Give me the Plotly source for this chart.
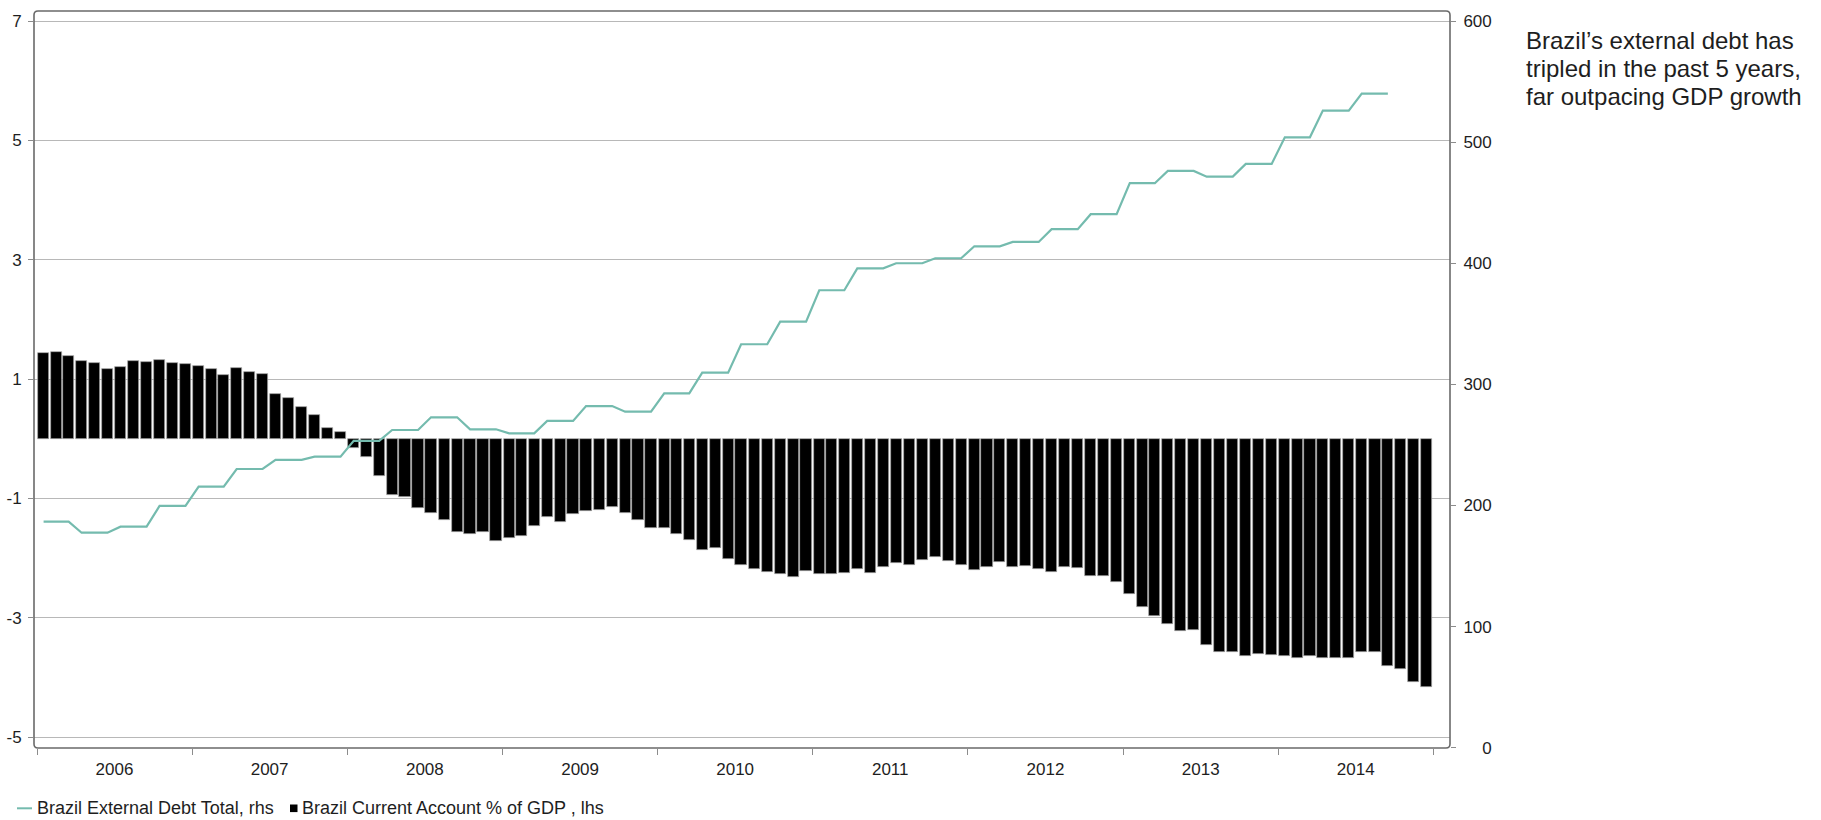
import pandas as pd
import plotly.graph_objects as go

# Monthly observations, Jan 2006 - Dec 2014
months = pd.date_range("2006-01-01", "2014-12-01", freq="MS")

# Brazil current account balance, % of GDP (left axis)
current_account = [
    1.43, 1.46, 1.39, 1.31, 1.26, 1.16, 1.20, 1.31, 1.29, 1.32, 1.27, 1.25,          # 2006
    1.22, 1.17, 1.06, 1.18, 1.12, 1.08, 0.75, 0.68, 0.53, 0.40, 0.18, 0.11,          # 2007
    -0.15, -0.31, -0.62, -0.94, -0.97, -1.17, -1.24, -1.37, -1.56, -1.60, -1.56, -1.71,  # 2008
    -1.67, -1.63, -1.47, -1.31, -1.39, -1.26, -1.22, -1.19, -1.15, -1.25, -1.37, -1.49,  # 2009
    -1.50, -1.59, -1.69, -1.87, -1.84, -2.01, -2.11, -2.18, -2.24, -2.26, -2.32, -2.21,  # 2010
    -2.26, -2.26, -2.25, -2.18, -2.25, -2.15, -2.08, -2.12, -2.04, -1.99, -2.05, -2.12,  # 2011
    -2.20, -2.15, -2.06, -2.15, -2.13, -2.19, -2.23, -2.15, -2.17, -2.30, -2.30, -2.41,  # 2012
    -2.60, -2.82, -2.98, -3.11, -3.23, -3.21, -3.45, -3.57, -3.58, -3.65, -3.61, -3.62,  # 2013
    -3.64, -3.67, -3.65, -3.67, -3.68, -3.68, -3.57, -3.58, -3.81, -3.86, -4.08, -4.17,  # 2014
]

# Brazil external debt total, USD bn (right axis); quarterly figures shown per month
external_debt = [
    186.6, 186.6, 186.6, 177.5, 177.5, 177.5, 182.5, 182.5, 182.5, 199.6, 199.6, 199.6,  # 2006
    215.5, 215.5, 215.5, 230.1, 230.1, 230.1, 237.6, 237.6, 237.6, 240.3, 240.3, 240.3,  # 2007
    253.3, 253.3, 253.3, 262.3, 262.3, 262.3, 272.8, 272.8, 272.8, 262.9, 262.9, 262.9,  # 2008
    259.6, 259.6, 259.6, 269.8, 269.8, 269.8, 282.1, 282.1, 282.1, 277.4, 277.4, 277.4,  # 2009
    292.6, 292.6, 292.6, 309.7, 309.7, 309.7, 333.1, 333.1, 333.1, 351.8, 351.8, 351.8,  # 2010
    377.7, 377.7, 377.7, 395.8, 395.8, 395.8, 400.0, 400.0, 400.0, 404.1, 404.1, 404.1,  # 2011
    414.0, 414.0, 414.0, 417.6, 417.6, 417.6, 428.1, 428.1, 428.1, 440.5, 440.5, 440.5,  # 2012
    466.1, 466.1, 466.1, 476.2, 476.2, 476.2, 471.5, 471.5, 471.5, 482.0, 482.0, 482.0,  # 2013
    504.0, 504.0, 504.0, 526.0, 526.0, 526.0, 540.0, 540.0, 540.0, None, None, None,     # 2014
]

left_ticks = [-5, -3, -1, 1, 3, 5, 7]
left_labels = ["-5", "-3", "-1", "1", "3", "5", "7"]
right_ticks = [0, 100, 200, 300, 400, 500, 600]

debt_name = "Brazil External Debt Total, rhs"
ca_name = "Brazil Current Account % of GDP , lhs"
note_lines = ["Brazil\u2019s external debt has", "tripled in the past 5 years,", "far outpacing GDP growth"]

W, H = 1821, 820
L, R, T, B = 34, 371, 11, 72
PW, PH = W - L - R, H - T - B

FONT = "Liberation Sans, Arial, sans-serif"
TEAL = "#74bbae"
TXT = "#1e1e1e"
TICK = "#8c8c8c"


def px_x(p):
    return (p - L) / PW


def px_y(p):
    return (H - B - p) / PH


fig = go.Figure()
fig.add_bar(
    x=months, y=current_account, name=ca_name,
    xperiod="M1", xperiodalignment="middle",
    width=26.5 * 86400000,
    marker=dict(color="#000000", line=dict(color="#a8a8a8", width=0.7)),
    showlegend=False, yaxis="y",
)
fig.add_scatter(
    x=months, y=external_debt, name=debt_name,
    xperiod="M1", xperiodalignment="middle",
    mode="lines", line=dict(color=TEAL, width=2.2),
    connectgaps=False, showlegend=False, yaxis="y2",
)

# rounded plot frame
rx, ry = 4 / PW, 4 / PH
frame = (f"M {rx},1 L {1-rx},1 Q 1,1 1,{1-ry} L 1,{ry} Q 1,0 {1-rx},0 "
         f"L {rx},0 Q 0,0 0,{ry} L 0,{1-ry} Q 0,1 {rx},1 Z")
shapes = [dict(type="path", xref="paper", yref="paper", path=frame,
               line=dict(color="#6a6a6a", width=1.6), layer="above")]

# legend keys
ly = 808.3
shapes.append(dict(type="line", xref="paper", yref="paper",
                   x0=px_x(17), x1=px_x(32), y0=px_y(ly), y1=px_y(ly),
                   line=dict(color=TEAL, width=2)))
shapes.append(dict(type="rect", xref="paper", yref="paper",
                   x0=px_x(290), x1=px_x(297.5), y0=px_y(ly + 3.8), y1=px_y(ly - 3.8),
                   fillcolor="#000000", line=dict(width=0)))

annotations = [
    dict(xref="paper", yref="paper", x=px_x(34.5), y=px_y(ly), xanchor="left", yanchor="middle",
         text=debt_name, showarrow=False, font=dict(family=FONT, size=18, color=TXT)),
    dict(xref="paper", yref="paper", x=px_x(299.5), y=px_y(ly), xanchor="left", yanchor="middle",
         text=ca_name, showarrow=False, font=dict(family=FONT, size=18, color=TXT)),
]
for i, line in enumerate(note_lines):
    annotations.append(dict(
        xref="paper", yref="paper", x=px_x(1524), y=px_y(40.0 + 28.3 * i),
        xanchor="left", yanchor="middle", text=line, showarrow=False,
        font=dict(family=FONT, size=24, color=TXT)))

tickfont = dict(family=FONT, size=17, color=TXT)

fig.update_layout(
    width=W, height=H,
    margin=dict(l=L, r=R, t=T, b=B, pad=0, autoexpand=False),
    paper_bgcolor="white", plot_bgcolor="white",
    bargap=0, showlegend=False,
    shapes=shapes, annotations=annotations,
    xaxis=dict(
        type="date", automargin=False,
        range=["2005-12-24 22:00", "2015-02-09 07:00"],
        tick0="2006-01-01", dtick="M12", tickformat="%Y", ticklabelmode="period",
        ticks="outside", ticklen=6, tickwidth=1.2, tickcolor=TICK,
        showgrid=False, zeroline=False, showline=False,
        tickfont=tickfont,
    ),
    yaxis=dict(
        automargin=False,
        range=[-5.1843, 7.1676], tickvals=left_ticks, ticktext=left_labels,
        ticks="outside", ticklen=5, tickwidth=1.2, tickcolor=TICK,
        showgrid=True, gridcolor="#b8b8b8", gridwidth=1.4,
        zeroline=False, showline=False, ticklabelstandoff=3,
        tickfont=tickfont,
    ),
    yaxis2=dict(
        automargin=False,
        overlaying="y", side="right",
        range=[-0.25, 608.26], tickvals=right_ticks,
        ticktext=[f"{v:>3}".replace(" ", "\u2007") for v in right_ticks],
        ticks="outside", ticklen=5, tickwidth=1.2, tickcolor=TICK,
        showgrid=False, zeroline=False, showline=False, ticklabelstandoff=4,
        tickfont=tickfont,
    ),
)

fig.write_html("out.html")
